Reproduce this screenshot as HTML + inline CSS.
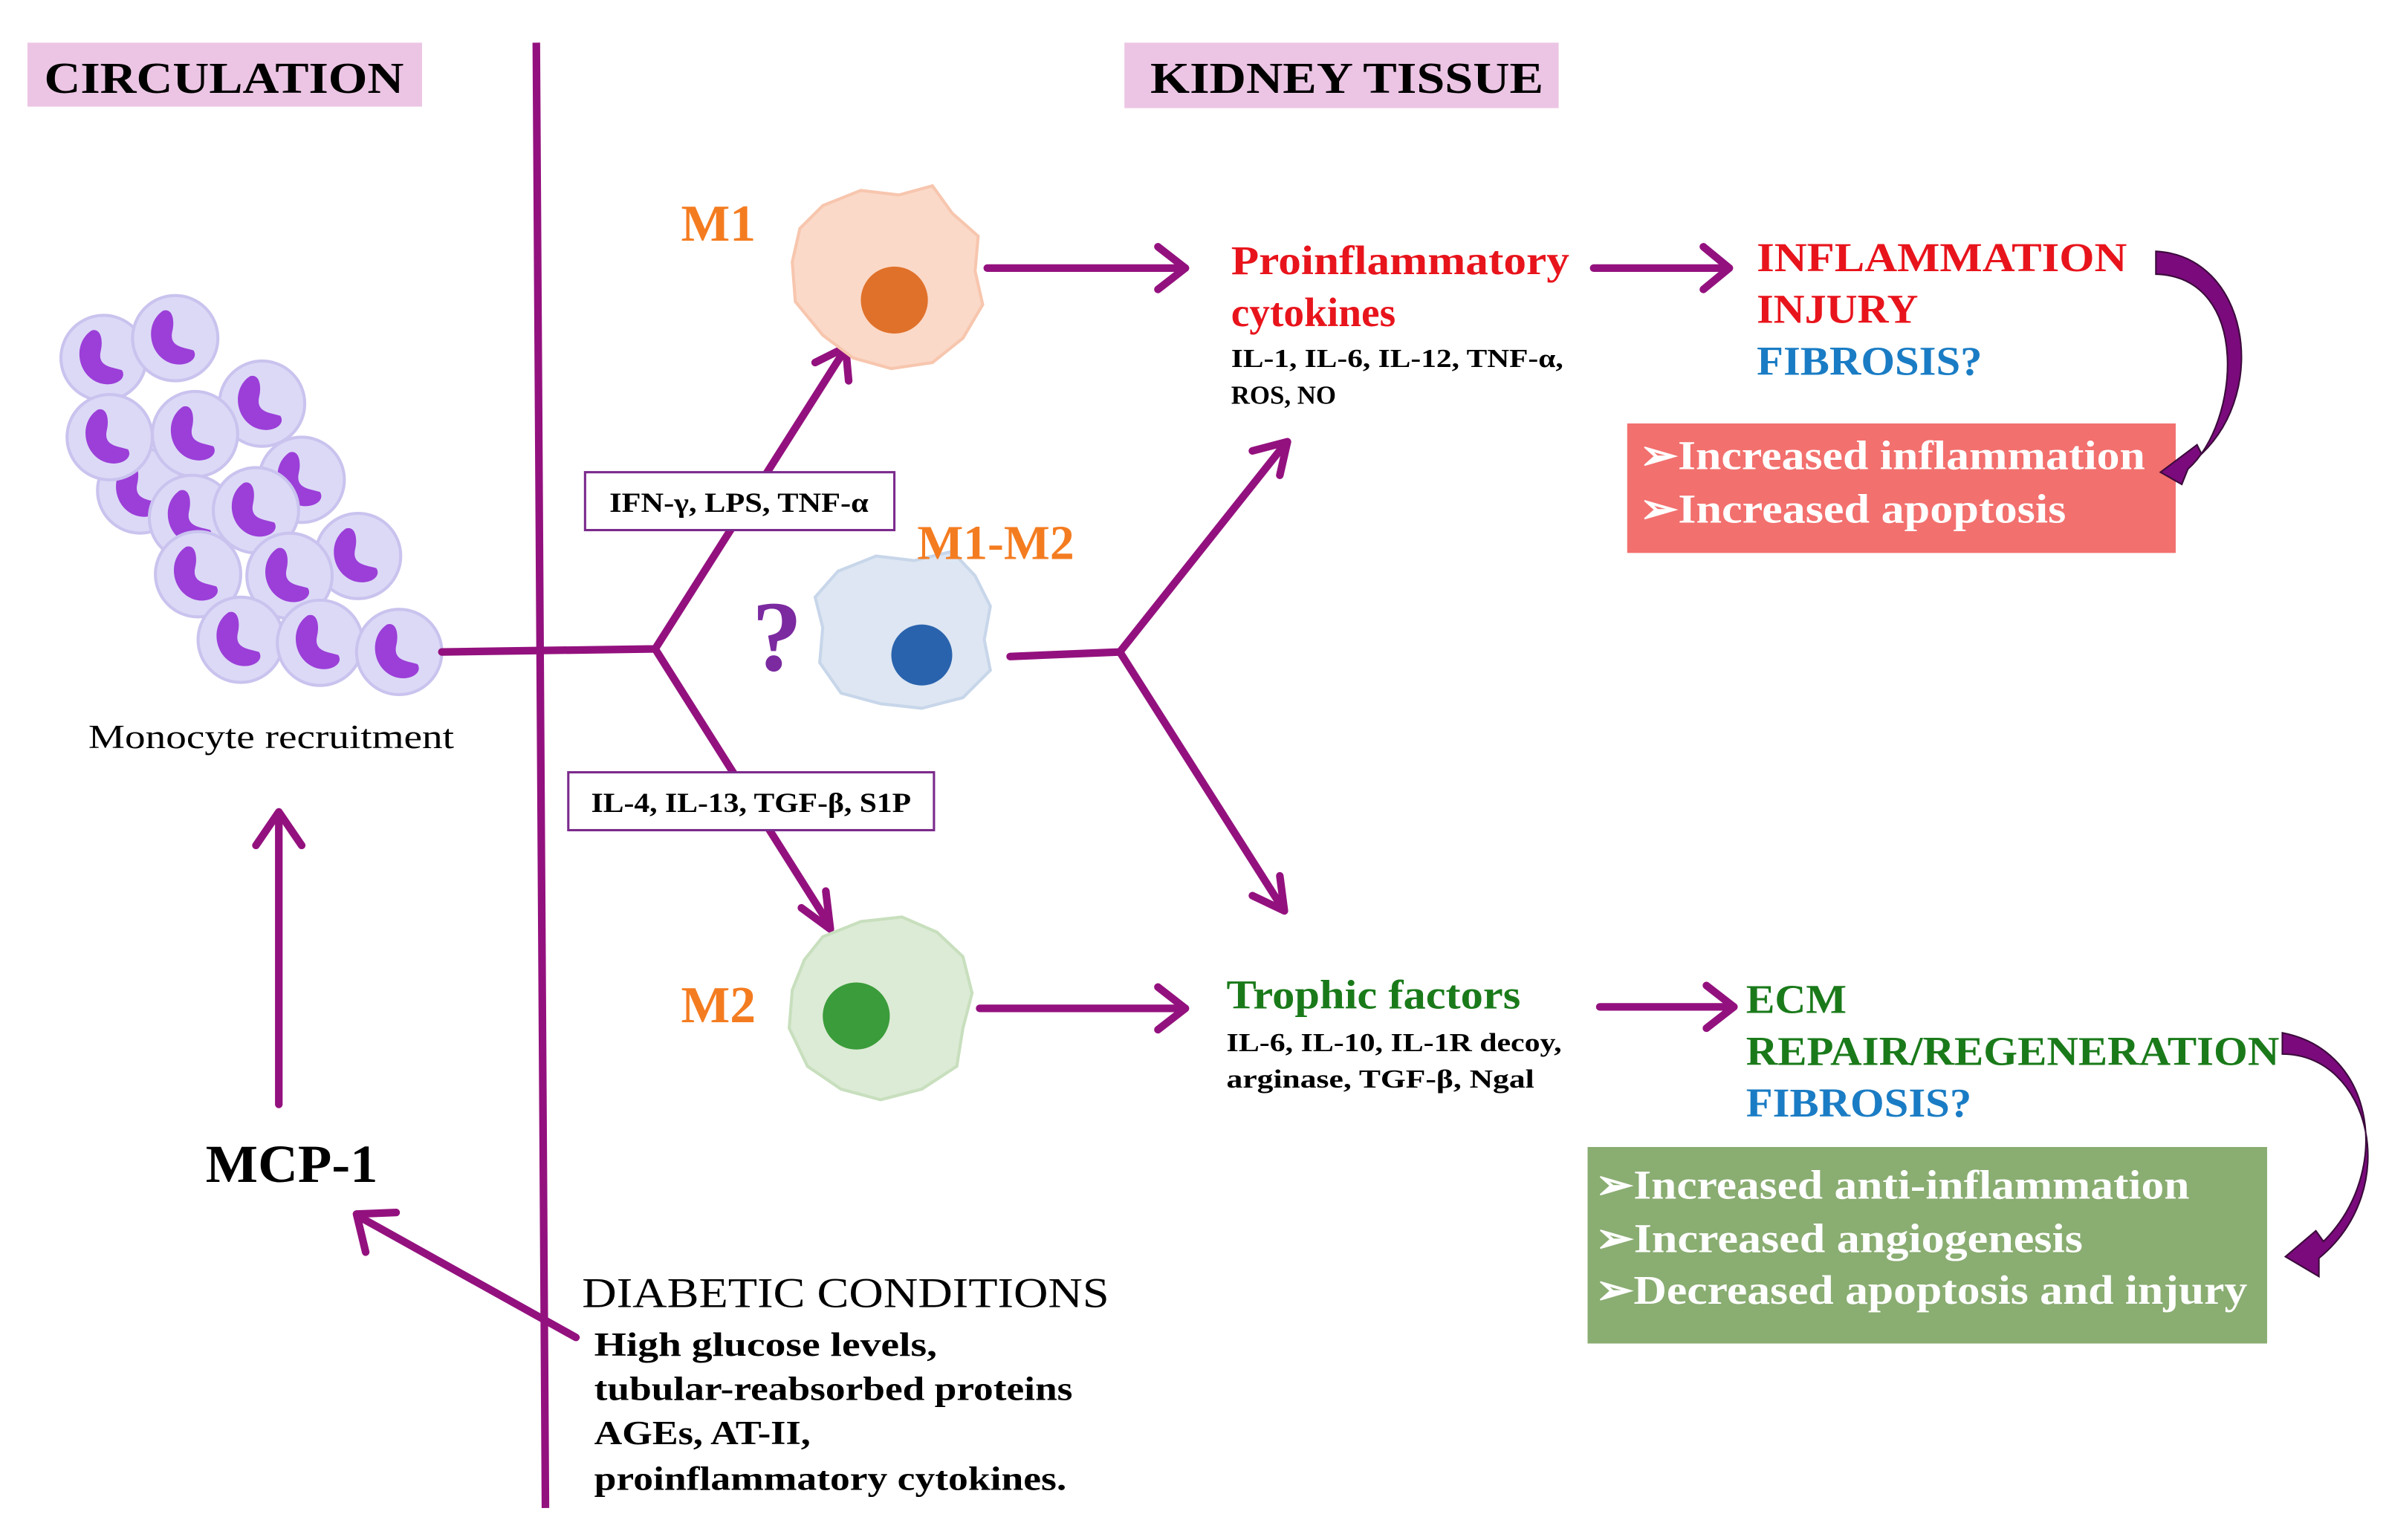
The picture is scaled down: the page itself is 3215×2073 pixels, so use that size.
<!DOCTYPE html>
<html><head><meta charset="utf-8"><style>
html,body{margin:0;padding:0;background:#fff;}
svg{display:block;}
text{font-family:"Liberation Serif",serif;}
</style></head><body>
<svg width="3215" height="2073" viewBox="0 0 1568 1011" preserveAspectRatio="none" xmlns="http://www.w3.org/2000/svg">
<rect width="1568" height="1011" fill="#fff"/>
<defs>
<g id="mono">
<circle r="28" fill="#dcd9f7" stroke="#c9c3ee" stroke-width="2"/>
<path d="M-8,-18 C-20,-10 -18,10 -4,16 C6,20 16,14 12,8 C6,6 -4,6 -2,-4 C0,-12 -2,-20 -8,-18Z" fill="#9b3fd8"/>
</g>
</defs>
<!-- headers -->
<rect x="18" y="28" width="259" height="42" fill="#ecc5e4"/>
<text x="147" y="61" font-size="29" font-weight="bold" text-anchor="middle" textLength="236" lengthAdjust="spacingAndGlyphs">CIRCULATION</text>
<rect x="738" y="28" width="285" height="43" fill="#ecc5e4"/>
<text x="884" y="61" font-size="29" font-weight="bold" text-anchor="middle" textLength="258" lengthAdjust="spacingAndGlyphs">KIDNEY TISSUE</text>
<!-- vertical line -->
<line x1="352" y1="28" x2="358" y2="990" stroke="#93117e" stroke-width="5"/>
<!-- monocytes -->
<g>
<use href="#mono" x="68" y="235"/><use href="#mono" x="115" y="222"/><use href="#mono" x="172" y="265"/>
<use href="#mono" x="92" y="322"/><use href="#mono" x="72" y="287"/><use href="#mono" x="128" y="285"/>
<use href="#mono" x="198" y="315"/><use href="#mono" x="126" y="340"/><use href="#mono" x="168" y="335"/>
<use href="#mono" x="235" y="365"/><use href="#mono" x="130" y="377"/><use href="#mono" x="190" y="378"/>
<use href="#mono" x="158" y="420"/><use href="#mono" x="210" y="422"/><use href="#mono" x="262" y="428"/>
</g>
<text x="178" y="491" font-size="22" text-anchor="middle" textLength="240" lengthAdjust="spacingAndGlyphs">Monocyte recruitment</text>
<!-- connectors -->
<g stroke="#93117e" stroke-width="5" fill="none" stroke-linecap="round" stroke-linejoin="round">
<polyline points="290,428 430,426 553,232"/>
<polyline points="535,238 555,228 557,250"/>
<polyline points="430,426 543,605"/>
<polyline points="526,596 545,610 542,585"/>
<line x1="648" y1="176" x2="778" y2="176"/><polyline points="760,162 778,176 760,190"/>
<polyline points="663,431 735,428 843,292"/><polyline points="822,296 845,290 840,312"/>
<polyline points="735,428 841,595"/><polyline points="822,588 843,598 840,575"/>
<line x1="643" y1="662" x2="778" y2="662"/><polyline points="760,648 778,662 760,676"/>
<line x1="1046" y1="176" x2="1135" y2="176"/><polyline points="1118,162 1135,176 1118,190"/>
<line x1="1050" y1="661" x2="1138" y2="661"/><polyline points="1120,647 1138,661 1120,675"/>
<line x1="183" y1="725" x2="183" y2="535"/><polyline points="168,555 183,533 198,555"/>
<line x1="378" y1="878" x2="238" y2="800"/><polyline points="240,822 234,797 260,796"/>
</g>
<!-- label boxes -->
<rect x="384" y="310" width="203" height="38" fill="#fff" stroke="#7b2a8c" stroke-width="1.5"/>
<text x="485" y="336" font-size="18" font-weight="bold" text-anchor="middle" textLength="170" lengthAdjust="spacingAndGlyphs">IFN-γ, LPS, TNF-α</text>
<rect x="373" y="507" width="240" height="38" fill="#fff" stroke="#7b2a8c" stroke-width="1.5"/>
<text x="493" y="533" font-size="18" font-weight="bold" text-anchor="middle" textLength="210" lengthAdjust="spacingAndGlyphs">IL-4, IL-13, TGF-β, S1P</text>
<!-- cells -->
<path d="M540,135 L565,125 L590,128 L612,122 L625,140 L642,155 L640,178 L645,200 L632,222 L612,238 L585,242 L560,235 L540,220 L522,198 L520,172 L525,150Z" fill="#fbd9c8" stroke="#f7c6ae" stroke-width="2"/>
<circle cx="587" cy="197" r="22" fill="#e0712a"/>
<path d="M550,375 L575,365 L600,368 L625,362 L640,378 L650,398 L646,420 L650,440 L632,458 L605,465 L578,462 L552,455 L538,435 L540,412 L535,392Z" fill="#dde6f2" stroke="#c8d6ea" stroke-width="2"/>
<circle cx="605" cy="430" r="20" fill="#2a63ad"/>
<path d="M540,615 L565,605 L592,602 L615,612 L632,628 L638,652 L632,675 L628,700 L605,715 L578,722 L552,715 L530,700 L518,675 L520,650 L528,630Z" fill="#dcebd5" stroke="#c8dfbe" stroke-width="2"/>
<circle cx="562" cy="667" r="22" fill="#3a9c3a"/>
<text x="447" y="158" font-size="34" font-weight="bold" fill="#f47c20">M1</text>
<text x="602" y="367" font-size="32" font-weight="bold" fill="#f47c20">M1-M2</text>
<text x="447" y="671" font-size="34" font-weight="bold" fill="#f47c20">M2</text>
<text x="510" y="440" font-size="66" font-weight="bold" fill="#7b2aa0" text-anchor="middle">?</text>
<!-- right texts -->
<text x="808" y="180" font-size="27" font-weight="bold" fill="#e8141c" textLength="222" lengthAdjust="spacingAndGlyphs">Proinflammatory</text>
<text x="808" y="214" font-size="27" font-weight="bold" fill="#e8141c">cytokines</text>
<text x="808" y="241" font-size="17" font-weight="bold" textLength="218" lengthAdjust="spacingAndGlyphs">IL-1, IL-6, IL-12, TNF-α,</text>
<text x="808" y="265" font-size="17" font-weight="bold">ROS, NO</text>
<text x="1153" y="178" font-size="27" font-weight="bold" fill="#e8141c" textLength="243" lengthAdjust="spacingAndGlyphs">INFLAMMATION</text>
<text x="1153" y="212" font-size="27" font-weight="bold" fill="#e8141c" textLength="106" lengthAdjust="spacingAndGlyphs">INJURY</text>
<text x="1153" y="246" font-size="27" font-weight="bold" fill="#1a7cc4" textLength="148" lengthAdjust="spacingAndGlyphs">FIBROSIS?</text>
<rect x="1068" y="278" width="360" height="85" fill="#f2706e"/>
<text x="1076" y="308" font-size="27" font-weight="bold" fill="#fff" textLength="332" lengthAdjust="spacingAndGlyphs">➢Increased inflammation</text>
<text x="1076" y="343" font-size="27" font-weight="bold" fill="#fff" textLength="280" lengthAdjust="spacingAndGlyphs">➢Increased apoptosis</text>
<path d="M1415,165 C1475,168 1490,255 1445,298 L1442,292 L1418,310 L1432,318 L1436,308 C1470,278 1478,182 1415,180Z" fill="#7b0a7c" stroke="#3a0a3a" stroke-width="1"/>
<text x="805" y="662" font-size="27" font-weight="bold" fill="#1a7a1a" textLength="193" lengthAdjust="spacingAndGlyphs">Trophic factors</text>
<text x="805" y="690" font-size="17" font-weight="bold" textLength="220" lengthAdjust="spacingAndGlyphs">IL-6, IL-10, IL-1R decoy,</text>
<text x="805" y="714" font-size="17" font-weight="bold" textLength="202" lengthAdjust="spacingAndGlyphs">arginase, TGF-β, Ngal</text>
<text x="1146" y="665" font-size="27" font-weight="bold" fill="#1a7a1a" textLength="66" lengthAdjust="spacingAndGlyphs">ECM</text>
<text x="1146" y="699" font-size="27" font-weight="bold" fill="#1a7a1a" textLength="350" lengthAdjust="spacingAndGlyphs">REPAIR/REGENERATION</text>
<text x="1146" y="733" font-size="27" font-weight="bold" fill="#1a7cc4" textLength="148" lengthAdjust="spacingAndGlyphs">FIBROSIS?</text>
<rect x="1042" y="753" width="446" height="129" fill="#8aad72"/>
<text x="1047" y="787" font-size="27" font-weight="bold" fill="#fff" textLength="390" lengthAdjust="spacingAndGlyphs">➢Increased anti-inflammation</text>
<text x="1047" y="822" font-size="27" font-weight="bold" fill="#fff" textLength="320" lengthAdjust="spacingAndGlyphs">➢Increased angiogenesis</text>
<text x="1047" y="856" font-size="27" font-weight="bold" fill="#fff" textLength="428" lengthAdjust="spacingAndGlyphs">➢Decreased apoptosis and injury</text>
<path d="M1498,678 C1560,690 1570,770 1525,815 L1520,808 L1500,825 L1522,838 L1522,826 C1578,780 1555,692 1498,692Z" fill="#7b0a7c" stroke="#3a0a3a" stroke-width="1"/>
<!-- left bottom -->
<text x="135" y="776" font-size="35" font-weight="bold" textLength="113" lengthAdjust="spacingAndGlyphs">MCP-1</text>
<text x="382" y="858" font-size="28" textLength="346" lengthAdjust="spacingAndGlyphs">DIABETIC CONDITIONS</text>
<text x="390" y="890" font-size="22" font-weight="bold" textLength="225" lengthAdjust="spacingAndGlyphs">High glucose levels,</text>
<text x="390" y="919" font-size="22" font-weight="bold" textLength="314" lengthAdjust="spacingAndGlyphs">tubular-reabsorbed proteins</text>
<text x="390" y="948" font-size="22" font-weight="bold" textLength="142" lengthAdjust="spacingAndGlyphs">AGEs, AT-II,</text>
<text x="390" y="978" font-size="22" font-weight="bold" textLength="310" lengthAdjust="spacingAndGlyphs">proinflammatory cytokines.</text>
</svg>
</body></html>
